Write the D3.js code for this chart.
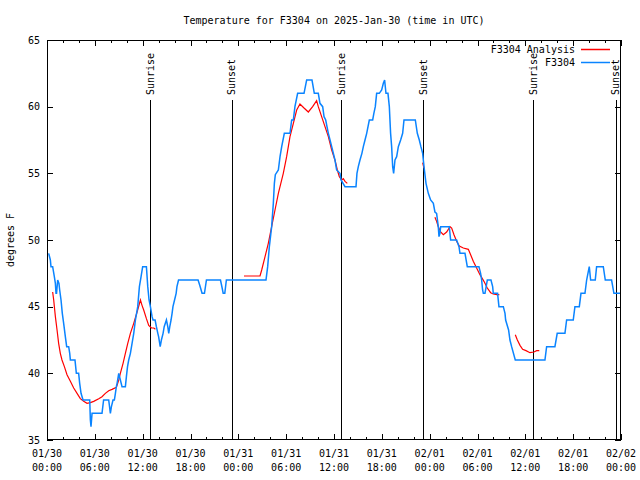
<!DOCTYPE html>
<html><head><meta charset="utf-8">
<script src="https://cdn.jsdelivr.net/npm/d3@7"></script>
<style>
body{margin:0;background:#fff;}
text{font-family:"DejaVu Sans Mono",monospace;font-size:10px;fill:#000;}
</style></head>
<body><svg id="c" width="640" height="480"></svg>
<script>
// hours since 2025-01-30 00:00 UTC
const obsTime = [0.21,0.42,0.5,0.71,0.92,1.05,1.13,1.2,1.34,1.5,1.59,1.76,1.92,2.09,2.3,2.47,2.72,2.85,2.93,3.51,3.68,3.97,4.1,4.27,4.52,5.36,5.44,5.52,5.65,6.9,7.1,7.74,7.95,8.08,8.28,8.45,8.58,8.7,8.79,9.0,9.41,9.83,9.96,10.1,10.25,10.46,10.67,10.88,11.09,11.38,11.59,11.8,12.0,12.47,12.64,12.8,12.97,13.18,13.3,13.56,13.72,13.9,14.0,14.2,14.35,14.56,14.7,14.98,15.15,15.27,15.4,15.56,15.69,15.8,16.0,16.2,16.3,16.5,18.95,19.16,19.45,19.75,20.0,21.76,21.97,22.1,22.3,22.5,27.47,27.68,27.89,28.18,28.39,28.52,28.64,29.02,29.23,29.44,29.77,30.48,30.69,30.9,31.1,31.44,32.24,32.57,33.24,33.53,34.03,34.24,34.58,34.75,34.96,35.12,35.29,35.5,35.71,35.92,36.12,36.33,36.75,36.88,37.38,38.76,38.88,39.05,39.26,39.5,39.68,39.89,40.1,40.43,40.85,41.0,41.18,41.35,41.68,41.98,42.19,42.35,42.52,42.77,42.94,43.1,43.23,43.36,43.48,43.65,43.86,44.07,44.36,44.61,44.78,46.2,46.45,46.7,46.9,47.12,47.29,47.54,47.83,48.12,48.46,48.66,48.87,49.08,49.17,49.29,49.38,50.46,50.63,51.38,51.68,51.8,52.43,52.72,54.18,54.39,54.52,54.64,54.73,54.94,55.23,55.69,55.9,55.98,56.52,56.69,57.24,57.45,57.53,57.9,58.07,58.28,58.74,62.46,62.67,63.71,64.0,64.97,65.18,66.01,66.22,66.77,66.98,67.48,67.69,68.02,68.19,68.77,68.94,69.78,70.03,70.82,71.11,72.0];
const obsTemp = [49,48.5,48,48,47.25,46.75,46,46,47,46.75,46.25,45.5,44.5,43.75,42.75,42,42,41.5,41,41,40,40,39.25,38.5,38,38,36.5,36,37,37,38,38,37,37.5,38,38,38.5,39,39.25,40,39,39,39.75,40.5,41,41.5,42.25,43,44,45,46.5,47.25,48,48,46.5,45.5,45,44.25,44,44,43.5,43,42.75,42,42.5,43,43.5,44,43.5,43,43.5,44,44.5,45,45.5,46,46.5,47,47,46.6,46,46,47,47,46.4,46,46,47,47,48,49.5,51,52.75,54.25,54.9,55.25,56.25,57,58,58,59,59,60,61,61,62,62,61,61,60.25,60,59.25,59,58.5,58,57.5,57,56.5,56,55.25,55,54.5,54,54,55,55.5,56,56.5,57,57.5,58,59,59,59.5,60,61,61,61.25,61.75,62,61,61,60,58,57,55.5,55,56,56.25,57,57.5,58,59,59,58,57.5,57,56.5,55.5,54.25,53.5,53,52.75,52.1,52,51,50.25,50.5,51,51,50,50,49.5,49,49,48,48,47.5,47,46.25,46,46,47,47,46.5,46,46,45,45,44.5,44,43.25,42.5,42,41,41,42,42,43,43,44,44,45,45,46,46,47,48,47,47,48,48,47,47,46,46];
// analysis series; null marks a gap
const anaTime = [0.71,0.84,1.05,1.26,1.46,1.67,1.88,2.18,2.51,2.93,3.35,3.77,4.18,4.6,5.02,5.44,5.86,6.49,6.9,7.32,7.74,8.16,8.7,9.0,9.2,9.54,9.83,10.13,10.46,10.88,11.3,11.72,11.92,12.13,12.47,12.76,13.1,13.4,13.6,null,
 24.71,26.72,26.93,27.35,27.76,28.18,28.6,29.02,29.64,30.06,30.48,30.9,31.32,31.73,32.24,32.78,33.32,33.82,34.03,34.45,34.87,35.29,35.71,36.12,36.42,36.67,36.96,37.17,37.38,37.67,null,
 47.12,47.28,null,
 48.66,48.87,49.08,49.38,49.71,50.13,50.55,50.76,51.05,51.38,51.72,52.22,52.85,53.14,53.47,53.89,54.31,54.81,55.23,55.65,55.98,56.4,56.74,null,
 58.74,59.0,59.33,59.66,60.08,60.58,61.08,61.42,61.75];
const anaTemp = [46.1,45.5,44.25,43.25,42.25,41.5,41,40.5,39.9,39.4,38.9,38.5,38.1,37.9,37.75,37.8,37.9,38.1,38.25,38.5,38.7,38.8,38.95,39.5,40,40.75,41.5,42.25,43,43.75,44.6,45.5,45.1,44.75,44.1,43.6,43.4,43.4,43.3,null,
 47.3,47.3,47.75,48.75,49.75,51,52.25,53.5,55,56.25,57.75,58.75,59.75,60.2,59.9,59.6,60,60.45,60,59.25,58.5,57.75,56.75,56,55.25,54.75,54.5,54.6,54.4,54.25,null,
 55.8,55.4,null,
 51.7,51.4,51,50.6,50.4,50.6,51,50.9,50.4,49.9,49.55,49.4,49.3,48.9,48.4,47.9,47.4,46.9,46.4,46.05,45.95,45.9,45.9,null,
 42.9,42.5,42.1,41.8,41.7,41.55,41.6,41.7,41.7];
const sunLabels = ["Sunrise","Sunset","Sunrise","Sunset","Sunrise","Sunset"];
const sunTimes = [12.96,23.17,36.9,47.2,60.98,71.33];
const xTickHours = [0,6,12,18,24,30,36,42,48,54,60,66,72];
const xTickDates = ["01/30","01/30","01/30","01/30","01/31","01/31","01/31","01/31","02/01","02/01","02/01","02/01","02/02"];
const xTickClock = ["00:00","06:00","12:00","18:00","00:00","06:00","12:00","18:00","00:00","06:00","12:00","18:00","00:00"];
const yTicks = [35,40,45,50,55,60,65];
const seriesNames = ["F3304 Analysis","F3304"];
const seriesColors = ["#ff0000","#0a84ff"];
const titleText = "Temperature for F3304 on 2025-Jan-30 (time in UTC)";
const yLabel = "degrees F";

const L=47, R=621, T=40, B=440;
const svg = d3.select("#c");
const x = d3.scaleLinear().domain([0,72]).range([L,R]);
const y = d3.scaleLinear().domain([35,65]).range([B,T]);

// axes with inward ticks
const minor = d3.range(0,73,2).filter(h=>h%6!==0);
const g = svg.append("g");
g.append("g").attr("transform",`translate(0,${B})`)
  .call(d3.axisBottom(x).tickValues(xTickHours).tickSizeInner(-6).tickSizeOuter(0).tickFormat(""));
g.append("g").attr("transform",`translate(0,${B})`)
  .call(d3.axisBottom(x).tickValues(minor).tickSizeInner(-3).tickSizeOuter(0).tickFormat(""));
g.append("g").attr("transform",`translate(0,${T})`)
  .call(d3.axisTop(x).tickValues(xTickHours).tickSizeInner(-6).tickSizeOuter(0).tickFormat(""));
g.append("g").attr("transform",`translate(0,${T})`)
  .call(d3.axisTop(x).tickValues(minor).tickSizeInner(-3).tickSizeOuter(0).tickFormat(""));
g.append("g").attr("transform",`translate(${L},0)`)
  .call(d3.axisLeft(y).tickValues(yTicks).tickSizeInner(-6).tickSizeOuter(0).tickFormat(""));
g.append("g").attr("transform",`translate(${R},0)`)
  .call(d3.axisRight(y).tickValues(yTicks).tickSizeInner(-6).tickSizeOuter(0).tickFormat(""));
g.selectAll(".domain").remove();
g.selectAll("line").attr("stroke","#000").attr("shape-rendering","crispEdges");

// tick labels
svg.append("g").selectAll("text").data(yTicks).join("text")
  .attr("x",L-7).attr("y",d=>y(d)).attr("dy","0.35em").attr("text-anchor","end").text(d=>d);
const xl = svg.append("g").selectAll("text").data(xTickHours).join("text")
  .attr("x",d=>x(d)).attr("text-anchor","middle");
xl.append("tspan").attr("x",d=>x(d)).attr("y",B+17).text((d,i)=>xTickDates[i]);
xl.append("tspan").attr("x",d=>x(d)).attr("y",B+31).text((d,i)=>xTickClock[i]);

// sun lines
const sg = svg.append("g");
sunTimes.forEach((t,i)=>{
  sg.append("line").attr("x1",Math.round(x(t))+0.5).attr("x2",Math.round(x(t))+0.5)
    .attr("y1",100).attr("y2",B).attr("stroke","#000").attr("stroke-width",1);
  sg.append("text").attr("transform",`translate(${x(t)},95) rotate(-90)`)
    .attr("dy","0.35em").attr("text-anchor","start").text(sunLabels[i]);
});

// series
const obs = obsTime.map((t,i)=>({t,v:obsTemp[i]}));
const ana = anaTime.map((t,i)=>({t,v:anaTemp[i]}));
const line = d3.line().defined(d=>d.v!=null).x(d=>x(d.t)).y(d=>y(d.v));
svg.append("path").datum(ana).attr("d",line).attr("fill","none")
  .attr("stroke",seriesColors[0]).attr("stroke-width",1.2);
svg.append("path").datum(obs).attr("d",line).attr("fill","none")
  .attr("stroke",seriesColors[1]).attr("stroke-width",1.5);

// border
svg.append("rect").attr("x",L+0.5).attr("y",T+0.5).attr("width",R-L-1).attr("height",B-T-1)
  .attr("fill","none").attr("stroke","#000").attr("shape-rendering","crispEdges");

// legend
seriesNames.forEach((n,i)=>{
  const yy = 49+i*13;
  svg.append("text").attr("x",575).attr("y",yy).attr("dy","0.35em").attr("text-anchor","end").text(n);
  svg.append("line").attr("x1",581).attr("x2",610).attr("y1",yy+0.5).attr("y2",yy+0.5)
    .attr("stroke",seriesColors[i]).attr("stroke-width",1.5);
});

// title and y label
svg.append("text").attr("x",(L+R)/2).attr("y",20).attr("dy","0.35em").attr("text-anchor","middle").text(titleText);
svg.append("text").attr("transform",`translate(10,240) rotate(-90)`).attr("dy","0.35em")
  .attr("text-anchor","middle").text(yLabel);
</script></body></html>
